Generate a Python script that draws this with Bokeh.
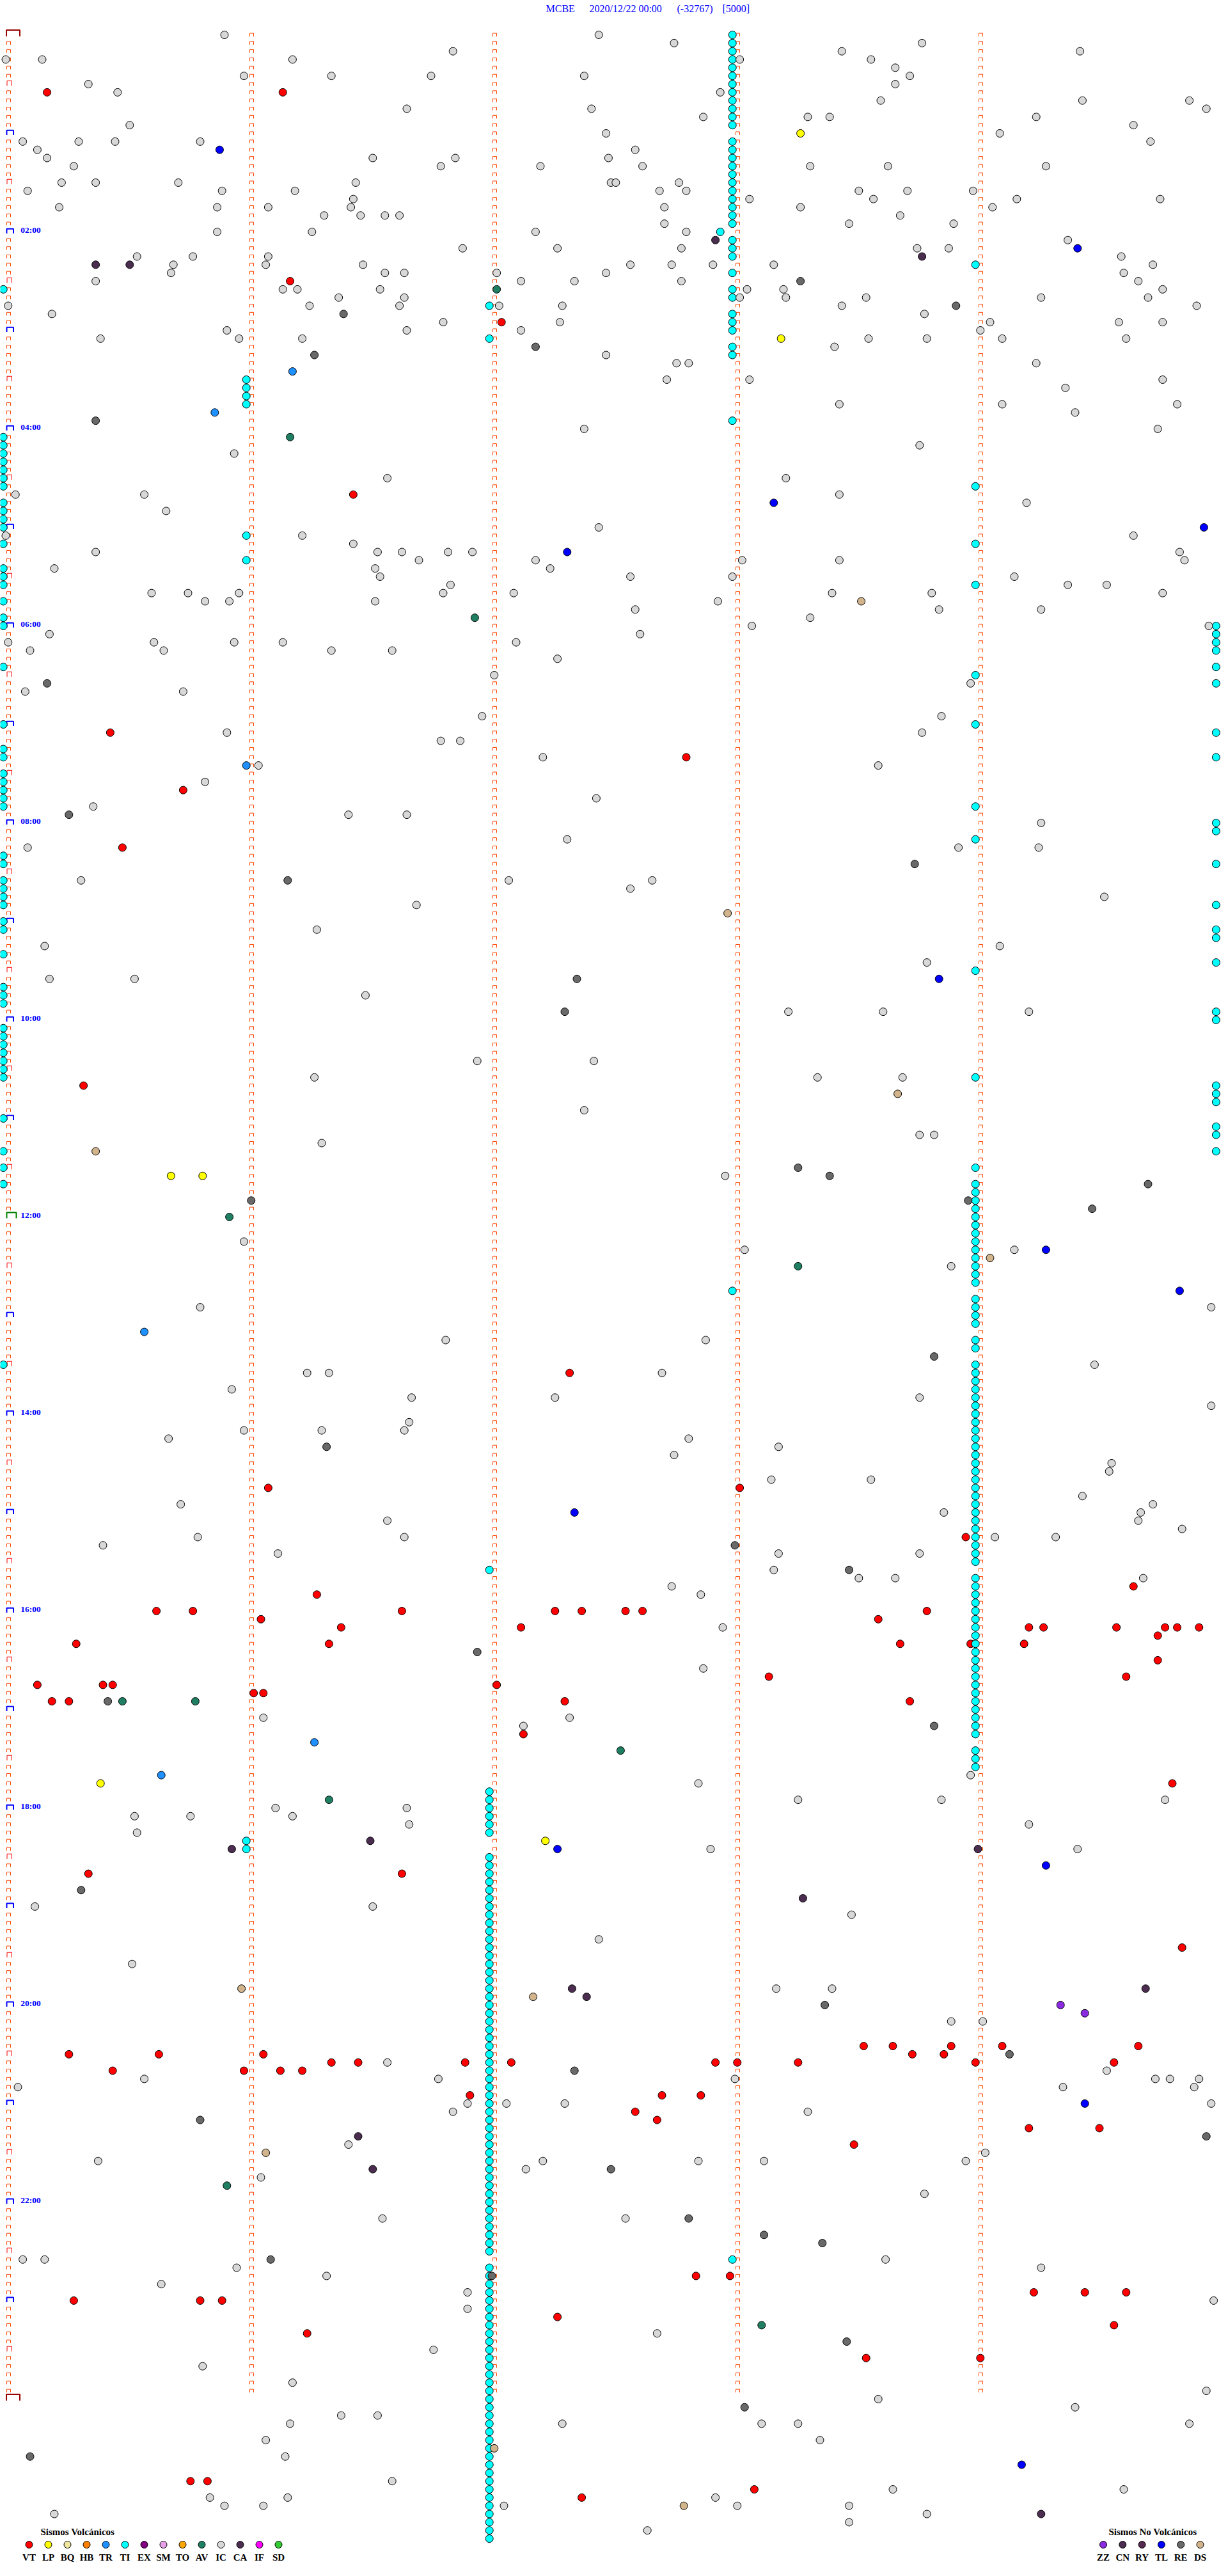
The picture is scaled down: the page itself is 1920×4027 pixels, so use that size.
import math
from bokeh.plotting import figure
from bokeh.models import Range1d, ColumnDataSource
from bokeh.embed import file_html
from bokeh.resources import INLINE
from bokeh.core.properties import value

# ---------------- header texts ----------------
STATION = "MCBE"
DATE = "2020/12/22 00:00"
CLIP = "(-32767)"
GAIN = "[5000]"

# helicorder layout: each row = 5 minutes, 288 rows = 24 h
MIN_PER_ROW = 5
N_ROWS = 288
HOUR_LABELS = ["02:00", "04:00", "06:00", "08:00", "10:00", "12:00",
               "14:00", "16:00", "18:00", "20:00", "22:00"]
HOUR_LABEL_HOURS = [2, 4, 6, 8, 10, 12, 14, 16, 18, 20, 22]

# ---------------- legend ----------------
VOLC_CODES = ["VT", "LP", "BQ", "HB", "TR", "TI", "EX", "SM", "TO", "AV", "IC", "CA", "IF", "SD"]
VOLC_COLORS = ["#FF0000", "#FFFF00", "#F0E6A0", "#FF8000", "#1E90FF", "#00FFFF", "#800080",
               "#E6A0E6", "#FFA500", "#1F7F62", "#D8D8D8", "#4B2D50", "#FF00FF", "#33CC33"]
NOVOLC_CODES = ["ZZ", "CN", "RY", "TL", "RE", "DS"]
NOVOLC_COLORS = ["#8A2BE2", "#4B2D50", "#552850", "#0000FF", "#696969", "#D2B48C"]

# ---------------- events: time in minutes after 00:00 ----------------
VT = [35.18, 36.15, 151.18, 177.05, 281.44, 425.44, 442.81, 460.74, 495.49, 640.33,
      817.33, 886.09, 888.03, 918.96, 949.65, 951.29,
      960.63, 960.78, 961.64, 962.27, 962.38, 962.56, 962.63, 963.80,
      966.06, 968.60, 971.39, 972.13, 974.22, 974.28, 974.58, 974.78, 974.83, 974.92,
      979.75, 980.30, 981.34, 983.69, 983.98, 984.20, 994.75, 1003.15, 1004.62,
      1005.14, 1005.41, 1005.45, 1007.03, 1011.03, 1011.07, 1015.20, 1015.27, 1017.31, 1018.73,
      1037.14, 1069.81, 1120.35, 1121.64, 1169.85,
      1228.54, 1228.66, 1228.90, 1229.11, 1229.67, 1230.27, 1230.64, 1231.07, 1233.74, 1233.87,
      1236.35, 1236.46, 1236.90, 1237.09, 1237.93, 1238.02, 1238.27, 1239.00, 1239.57,
      1240.45, 1240.99, 1241.14, 1241.23, 1256.92, 1257.71, 1257.87, 1267.60, 1272.69,
      1279.22, 1279.51, 1288.50, 1367.85, 1367.99, 1379.24, 1379.45, 1379.62,
      1380.29, 1380.81, 1380.90, 1392.28, 1399.57, 1401.25, 1418.55, 1419.02,
      1490.77, 1490.84, 1498.09, 1502.38]
LP = [63.28, 188.20, 695.69, 695.82, 1065.40, 1102.23]
BQ = []
HB = []
TR = [206.19, 230.87, 446.00, 790.58, 1041.28, 1060.65]
TI = [  # left edge (minute 0)
      155.0, 245.0, 250.0, 255.0, 260.0, 265.0, 270.0, 275.0, 285.0, 290.0, 295.0, 300.0,
      310.0, 325.0, 330.0, 335.0, 345.0, 355.0, 360.0, 385.0, 420.0, 435.0, 440.0, 450.0,
      455.0, 460.0, 465.0, 470.0, 500.0, 505.0, 515.0, 520.0, 525.0, 530.0, 540.0, 545.0,
      560.0, 580.0, 585.0, 590.0, 605.0, 610.0, 615.0, 620.0, 625.0, 630.0, 635.0, 660.0,
      680.0, 690.0, 700.0, 810.0,
      # minute 1
      211.0, 216.0, 221.0, 226.0, 306.0, 321.0, 1101.0, 1106.0,
      # minute 2
      167.0, 187.0, 937.0, 1072.0, 1077.0, 1082.0, 1087.0, 1092.0, 1097.0,
      1112.0, 1117.0, 1122.0, 1127.0, 1132.0, 1137.0, 1142.0, 1147.0, 1152.0, 1157.0,
      1162.0, 1167.0, 1172.0, 1177.0, 1182.0, 1187.0, 1192.0, 1197.0, 1202.0, 1207.0,
      1212.0, 1217.0, 1222.0, 1227.0, 1232.0, 1237.0, 1242.0, 1247.0, 1252.0, 1257.0,
      1262.0, 1267.0, 1272.0, 1277.0, 1282.0, 1287.0, 1292.0, 1297.0, 1302.0, 1307.0,
      1312.0, 1317.0, 1322.0, 1327.0, 1332.0, 1337.0, 1342.0, 1347.0, 1352.0,
      1362.0, 1367.0, 1372.0, 1377.0, 1382.0, 1387.0, 1392.0, 1397.0, 1402.0, 1407.0,
      1412.0, 1417.0, 1422.0, 1427.0, 1432.0, 1437.0, 1442.0, 1447.0, 1452.0, 1457.0,
      1462.0, 1467.0, 1472.0, 1477.0, 1482.0, 1487.0, 1492.0, 1497.0, 1502.0, 1507.0,
      1512.0, 1517.0, 1522.0, 1527.0,
      # minute 3
      3.0, 8.0, 13.0, 18.0, 23.0, 28.0, 33.0, 38.0, 43.0, 48.0, 53.0, 58.0,
      68.0, 73.0, 78.0, 83.0, 88.0, 93.0, 98.0, 103.0, 108.0, 113.0, 118.0, 122.95,
      128.0, 133.0, 138.0, 148.0, 158.0, 163.0, 173.0, 178.0, 183.0, 193.0, 198.0,
      238.0, 768.0, 1358.0,
      # minute 4
      144.0, 279.0, 314.0, 339.0, 394.0, 424.0, 474.0, 494.0, 574.0, 639.0, 694.0,
      704.0, 709.0, 714.0, 719.0, 724.0, 729.0, 734.0, 739.0, 744.0, 749.0, 754.0, 759.0, 764.0,
      774.0, 779.0, 784.0, 789.0, 799.0, 804.0,
      814.0, 819.0, 824.0, 829.0, 834.0, 839.0, 844.0, 849.0, 854.0, 859.0, 864.0, 869.0,
      874.0, 879.0, 884.0, 889.0, 894.0, 899.0, 904.0, 909.0, 914.0, 919.0, 924.0, 929.0, 934.0,
      944.0, 949.0, 954.0, 959.0, 964.0, 969.0, 974.0, 979.0, 984.0, 989.0, 994.0, 999.0,
      1004.0, 1009.0, 1014.0, 1019.0, 1024.0, 1029.0, 1034.0, 1039.0, 1049.0, 1054.0, 1059.0,
      # right edge
      364.99, 369.99, 374.99, 379.99, 389.99, 399.99, 429.99, 444.99, 484.99, 489.99,
      509.99, 534.99, 549.99, 554.99, 569.99, 599.99, 604.99, 644.99, 649.99, 654.99,
      669.99, 674.99, 684.99]
EX = []
SM = []
TO = []
AV = [157.03, 246.18, 356.94, 720.93, 753.27, 1015.49, 1015.79, 1047.54, 1076.34, 1310.92, 1398.12]
IC = [0.91, 2.45, 7.76, 8.78, 11.85, 13.45, 14.43, 15.01, 15.16, 16.19, 18.03, 18.57, 23.67,
      25.99, 26.35, 26.76, 27.39, 28.73, 30.35, 33.67, 35.47, 37.95, 43.61, 44.44, 44.88,
      46.66, 47.42, 49.95, 52.88, 53.31, 53.40, 54.25, 55.52, 59.65, 62.48, 64.10, 65.08,
      65.31, 65.46, 65.81, 69.72, 70.14, 72.60, 75.18, 76.52, 76.86, 77.49, 80.29, 81.80,
      82.21, 82.63, 83.32, 83.64, 84.29, 90.24, 90.38, 90.72, 91.45, 92.50, 92.52, 92.78,
      95.10, 95.90, 96.20, 97.70, 97.81, 98.52, 98.72, 98.99, 101.44, 103.07, 103.58, 104.17,
      104.76, 105.23, 105.88, 106.09, 106.43, 107.72, 108.28, 109.07, 111.32, 111.47, 111.57,
      111.63, 113.69, 117.72, 118.48, 118.91, 120.88, 121.27, 122.19, 122.81, 129.38, 131.89,
      132.28, 132.79, 133.76, 133.89, 135.55, 135.78, 136.09, 139.60, 140.70, 141.08, 141.48,
      142.58, 142.75, 142.92, 143.17, 144.73, 145.69, 146.57, 146.65, 147.03, 147.48, 149.61,
      150.38, 152.13, 152.35, 152.79, 154.67, 156.15, 156.21, 156.55, 158.06, 158.21, 159.77,
      161.38, 161.65, 163.03, 163.22, 163.55, 164.27, 164.71, 165.02, 166.26, 166.63, 167.04,
      167.30, 168.45, 169.91, 170.20, 173.79, 176.81, 177.29, 179.06, 179.59, 179.77, 180.92,
      181.66, 182.13, 184.02, 185.40, 185.97, 186.23, 188.56, 188.80, 189.11, 189.62, 193.42,
      197.48, 202.77, 202.82, 204.25, 212.73, 213.07, 214.77, 219.37, 228.44, 229.11, 229.83,
      234.41, 242.39, 244.75, 253.77, 255.95, 271.58, 273.22, 280.05, 280.58, 283.44, 289.21,
      290.67, 302.45, 305.01, 306.23, 309.65, 311.44, 315.38, 316.54, 316.64, 316.83, 316.93,
      319.84, 321.71, 322.19, 323.04, 323.44, 324.86, 325.21, 326.53, 327.25, 331.55, 332.58,
      333.00, 334.16, 336.84, 339.38, 339.54, 340.61, 340.76, 340.97, 341.81, 342.10, 343.41,
      343.82, 344.77, 345.83, 345.93, 346.53, 347.94, 352.60, 353.85, 354.27, 358.32, 363.08,
      364.96, 365.19, 367.62, 370.02, 370.62, 370.95, 371.15, 372.11, 375.11, 375.66, 376.35,
      376.60, 382.28, 392.02, 398.98, 400.09, 400.74, 416.97, 418.86, 425.92, 428.78, 431.80,
      431.88, 442.22, 446.05, 448.60, 455.83, 467.44, 470.37, 476.42, 476.66, 484.27, 492.32,
      495.10, 498.93, 499.26, 515.32, 517.08, 517.67, 522.58, 529.53, 531.70, 546.29, 555.17,
      559.10, 568.80, 575.19, 575.54, 586.49, 598.23, 598.62, 599.22, 626.95, 627.43, 636.28,
      638.35, 638.70, 657.39, 673.77, 673.83, 676.31, 697.97, 735.99, 743.05, 744.16, 753.90,
      775.81, 779.97, 796.82, 797.89, 814.49, 816.25, 816.34, 817.71, 825.94, 831.68, 832.27,
      833.77, 839.97, 846.67, 850.99, 851.31, 851.65, 855.68, 857.82, 863.19, 867.76, 874.56,
      879.55, 883.16, 883.57, 894.44, 895.73, 899.73, 903.87, 904.68, 906.58, 909.67, 914.85,
      915.80, 916.65, 919.08, 919.33, 920.41, 926.13, 928.19, 928.77, 938.17, 943.52, 943.67,
      944.69, 947.75, 952.87, 972.96, 997.88, 1026.07, 1027.33, 1032.14, 1063.98, 1067.86,
      1078.27, 1078.86, 1079.78, 1081.12, 1081.66, 1085.54, 1085.77, 1086.19, 1091.67, 1094.22,
      1095.55, 1107.91, 1109.42, 1140.13, 1141.52, 1148.49, 1162.45, 1175.53, 1193.18, 1193.41,
      1213.90, 1214.03, 1236.58, 1244.54, 1245.58, 1246.79, 1248.01, 1249.74, 1249.80, 1249.92,
      1250.06, 1254.36, 1254.90, 1261.91, 1262.07, 1262.31, 1264.97, 1266.85, 1268.31, 1286.42,
      1294.04, 1295.39, 1297.22, 1297.86, 1298.13, 1298.96, 1302.15, 1306.06, 1318.79, 1331.56,
      1332.56, 1355.08, 1355.17, 1358.63, 1360.96, 1364.27, 1366.33, 1370.65, 1376.91, 1384.98,
      1386.91, 1402.69, 1411.77, 1420.82, 1431.19, 1439.95, 1443.60, 1449.41, 1451.39, 1451.54,
      1456.18, 1457.30, 1458.12, 1458.27, 1459.88, 1466.08, 1468.36, 1476.16, 1491.60, 1498.66,
      1499.61, 1500.85, 1501.17, 1502.93, 1505.91, 1506.07, 1507.06, 1508.02, 1508.48, 1510.21,
      1513.80, 1518.48, 1522.65]
CA = [127.93, 138.78, 140.38, 140.52, 1101.51, 1105.94, 1109.01, 1138.29, 1192.34, 1194.70,
      1197.40, 1281.46, 1301.52, 1514.27]
IF = []
SD = []
ZZ = [1204.35, 1209.45]
CN = []
RY = []
TL = [70.89, 134.42, 288.17, 304.94, 317.32, 578.85, 744.29, 769.84, 902.35, 1107.28,
      1119.29, 1264.45, 1484.19]
RE = [153.28, 168.92, 171.40, 192.19, 196.28, 235.38, 395.18, 475.27, 508.75, 516.17, 577.36,
      597.31, 693.27, 698.40, 704.71, 711.02, 713.97, 719.48, 808.83, 861.33, 923.01, 938.48,
      986.95, 1015.43, 1033.83, 1130.32, 1203.38, 1234.14, 1242.35, 1270.81, 1284.95, 1302.50,
      1332.82, 1343.13, 1348.37, 1356.10, 1367.01, 1408.47, 1448.05, 1475.11]
DS = [348.53, 537.98, 648.68, 680.38, 749.06, 1190.98, 1197.18, 1291.08, 1472.02, 1507.80]

EVENTS = {"VT": VT, "LP": LP, "BQ": BQ, "HB": HB, "TR": TR, "TI": TI, "EX": EX, "SM": SM,
          "TO": TO, "AV": AV, "IC": IC, "CA": CA, "IF": IF, "SD": SD,
          "ZZ": ZZ, "CN": CN, "RY": RY, "TL": TL, "RE": RE, "DS": DS}
COLOR_OF = dict(zip(VOLC_CODES + NOVOLC_CODES, VOLC_COLORS + NOVOLC_COLORS))

# ---------------- page geometry (pixels) ----------------
W, H = 1920, 4027
PAGE_OFF = 0            # the canvas is rendered at the page origin
PX_PER_MIN = 380.0      # horizontal pixels per minute
PX_PER_ROW = 12.833     # vertical pixels per 5-minute row
X0_PX = 4.7             # page x of minute 0
Y0_PX = 54.0            # page y of row 0 centre


def mx(px):
    return (px - X0_PX) / PX_PER_MIN


def ry(py):
    return (py - Y0_PX) / PX_PER_ROW


p = figure(width=W, height=H, output_backend="svg", toolbar_location=None,
           x_range=Range1d(mx(PAGE_OFF), mx(PAGE_OFF + W)),
           y_range=Range1d(ry(PAGE_OFF + H), ry(PAGE_OFF)),
           x_axis_type=None, y_axis_type=None, min_border=0,
           background_fill_color="white", border_fill_color="white")
p.grid.visible = False
p.outline_line_color = None

# ---------------- minute markers ----------------
mxs, mys, mcol, mlw = [], [], [], []


def bracket(left_px, width_px, r, top_off, bot_off, color, lw):
    xl = mx(left_px)
    xr = mx(left_px + width_px)
    yt = r + top_off / PX_PER_ROW
    yb = r + bot_off / PX_PER_ROW
    mxs.append([xl, xl, xr, xr])
    mys.append([yb, yt, yt, yb])
    mcol.append(color)
    mlw.append(lw)


for r in range(N_ROWS):
    for k in range(1, MIN_PER_ROW):
        bracket(10 + PX_PER_MIN * k, 6, r, -2.5, 2.5, "#FF4500", 1)

for r in range(N_ROWS + 1):
    if r == 0 or r == N_ROWS:
        bracket(9.5, 21, r, -7.5, 2.3, "#990000", 2)
    elif r == N_ROWS // 2:
        bracket(10, 15, r, -7.0, 2.0, "#008000", 2)
    elif r % 12 == 0:
        bracket(10, 10.5, r, -4.8, 2.5, "#0000FF", 2)
    elif r % 6 == 0:
        bracket(10.5, 7.5, r, -5.2, 2.5, "#FF0000", 1)
    else:
        bracket(10, 6, r, -2.5, 2.5, "#FF4500", 1)

p.multi_line(xs="xs", ys="ys", line_color="c", line_width="lw",
             source=ColumnDataSource(dict(xs=mxs, ys=mys, c=mcol, lw=mlw)))

# ---------------- hour labels ----------------
lab_rows = [h * 12 for h in HOUR_LABEL_HOURS]
p.text(x=[mx(31.7)] * len(lab_rows), y=[r - 2.6 / PX_PER_ROW for r in lab_rows],
       text=HOUR_LABELS, text_font=value("Liberation Serif"), text_font_style="bold",
       text_font_size="13.5px", text_color="#0000FF", text_baseline="middle",
       text_align="left")

# ---------------- title ----------------
p.text(x=[mx(853), mx(921), mx(1058), mx(1129)], y=[ry(13)] * 4,
       text=[STATION, DATE, CLIP, GAIN], text_font=value("Liberation Serif"),
       text_font_size="16px", text_color="#0000FF", text_baseline="middle",
       text_align="left")

# ---------------- events ----------------
ex, ey, ec = [], [], []
for code, times in EVENTS.items():
    for t in times:
        row = math.floor(t / MIN_PER_ROW + 1e-9)
        ex.append(t - row * MIN_PER_ROW)
        ey.append(row)
        ec.append(COLOR_OF[code])
p.scatter(x="x", y="y", fill_color="c", line_color="black", line_width=1, size=12,
          source=ColumnDataSource(dict(x=ex, y=ey, c=ec)))

# ---------------- legends ----------------
lx_v = [mx(45 + 30 * i) for i in range(len(VOLC_CODES))]
lx_n = [mx(1724.5 + 30.3 * i) for i in range(len(NOVOLC_CODES))]
p.scatter(x=lx_v + lx_n, y=[ry(3977.5)] * (len(lx_v) + len(lx_n)),
          fill_color=VOLC_COLORS + NOVOLC_COLORS, line_color="black", line_width=1, size=11)
p.text(x=lx_v + lx_n, y=[ry(3997.5)] * (len(lx_v) + len(lx_n)),
       text=VOLC_CODES + NOVOLC_CODES, text_font=value("Liberation Serif"),
       text_font_style="bold", text_font_size="15px", text_color="black",
       text_baseline="middle", text_align="center")
p.text(x=[mx(63), mx(1733)], y=[ry(3957)] * 2,
       text=["Sismos Volcánicos", "Sismos No Volcánicos"],
       text_font=value("Liberation Serif"), text_font_style="bold",
       text_font_size="15px", text_color="black", text_baseline="middle",
       text_align="left")

open("out.html", "w").write(file_html(p, INLINE))
